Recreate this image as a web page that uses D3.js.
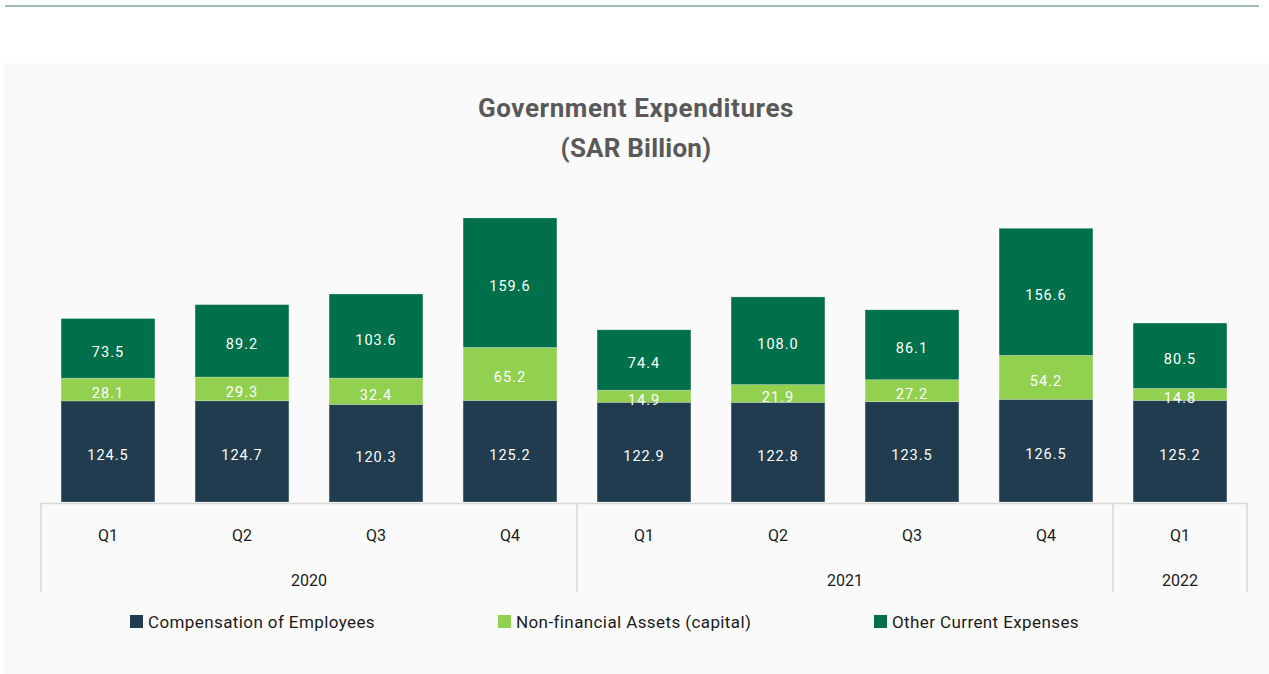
<!DOCTYPE html>
<html>
<head>
<meta charset="utf-8">
<script src="https://cdn.jsdelivr.net/npm/d3@7"></script>
<style>
  html, body { margin: 0; padding: 0; background: #ffffff; }
  svg { display: block; font-family: Roboto, "DejaVu Sans", sans-serif; }
</style>
</head>
<body>
<svg id="chart" width="1269" height="674"></svg>
<script>
// Quarterly government expenditures, SAR billion
const quarters = ["Q1", "Q2", "Q3", "Q4", "Q1", "Q2", "Q3", "Q4", "Q1"];
const years = ["2020", "2020", "2020", "2020", "2021", "2021", "2021", "2021", "2022"];
const compensation = [124.5, 124.7, 120.3, 125.2, 122.9, 122.8, 123.5, 126.5, 125.2];
const nonFinancial = [28.1, 29.3, 32.4, 65.2, 14.9, 21.9, 27.2, 54.2, 14.8];
const otherCurrent = [73.5, 89.2, 103.6, 159.6, 74.4, 108.0, 86.1, 156.6, 80.5];
const seriesNames = ["Compensation of Employees", "Non-financial Assets (capital)", "Other Current Expenses"];
const seriesColors = ["#213c4e", "#92d050", "#00704a"];

const svg = d3.select("#chart");
const W = 1269;

// top rule and card background
svg.append("line").attr("x1", 5).attr("x2", 1259).attr("y1", 6).attr("y2", 6)
  .attr("stroke", "#7fa896").attr("stroke-width", 1.5);
svg.append("rect").attr("x", 4).attr("y", 63).attr("width", W - 4).attr("height", 611)
  .attr("fill", "#fafafa");

// title
svg.append("text").attr("x", 636).attr("y", 117).attr("text-anchor", "middle")
  .attr("font-size", 26).attr("font-weight", "bold").attr("letter-spacing", 0.6).attr("fill", "#595959")
  .text("Government Expenditures");
svg.append("text").attr("x", 636).attr("y", 157).attr("text-anchor", "middle")
  .attr("font-size", 26).attr("font-weight", "bold").attr("letter-spacing", 0.2).attr("fill", "#595959")
  .text("(SAR Billion)");

const left = 41, right = 1247, baseY = 502;
const idx = d3.range(quarters.length);
const x = d3.scaleBand().domain(idx).range([left, right]).paddingInner(0.3).paddingOuter(0.15);
const y = d3.scaleLinear().domain([0, 400]).range([baseY, 177.4]);

const rows = idx.map(i => ({ i, comp: compensation[i], nfa: nonFinancial[i], other: otherCurrent[i] }));
const keys = ["comp", "nfa", "other"];
const stacked = d3.stack().keys(keys)(rows);

const g = svg.append("g");
stacked.forEach((layer, k) => {
  const lg = g.append("g");
  lg.selectAll("rect").data(layer).join("rect")
    .attr("x", d => x(d.data.i))
    .attr("width", x.bandwidth())
    .attr("y", d => y(d[1]))
    .attr("height", d => y(d[0]) - y(d[1]))
    .attr("fill", seriesColors[k])
    .attr("stroke", "rgba(255,255,255,0.35)").attr("stroke-width", 0.6);
  lg.selectAll("text").data(layer).join("text")
    .attr("x", d => x(d.data.i) + x.bandwidth() / 2)
    .attr("y", d => (y(d[0]) + y(d[1])) / 2 + 8.5)
    .attr("text-anchor", "middle")
    .attr("font-size", 14.5).attr("letter-spacing", 1)
    .attr("fill", "#ffffff")
    .text(d => d3.format(".1f")(d.data[keys[k]]));
});

// category axis: quarter row and year groups
const axisColor = "#d9d9d9";
const ax = svg.append("g");
ax.append("line").attr("x1", left).attr("x2", right).attr("y1", baseY + 1.5).attr("y2", baseY + 1.5)
  .attr("stroke", axisColor).attr("stroke-width", 1.5);
const step = x.step();
const groups = [];
years.forEach((yr, i) => {
  const last = groups[groups.length - 1];
  if (last && last.year === yr) last.end = i; else groups.push({ year: yr, start: i, end: i });
});
groups.forEach(gp => {
  gp.x0 = x(gp.start) - (step - x.bandwidth()) / 2;
  gp.x1 = x(gp.end) + x.bandwidth() + (step - x.bandwidth()) / 2;
});
const edges = [groups[0].x0].concat(groups.map(gp => gp.x1));
ax.selectAll("line.div").data(edges).join("line").attr("class", "div")
  .attr("x1", d => d).attr("x2", d => d).attr("y1", baseY + 1).attr("y2", 592)
  .attr("stroke", axisColor).attr("stroke-width", 1.5);
ax.selectAll("text.q").data(idx).join("text").attr("class", "q")
  .attr("x", i => x(i) + x.bandwidth() / 2).attr("y", 541)
  .attr("text-anchor", "middle").attr("font-size", 16).attr("fill", "#1a1a1a")
  .text(i => quarters[i]);
ax.selectAll("text.yr").data(groups).join("text").attr("class", "yr")
  .attr("x", gp => (gp.x0 + gp.x1) / 2).attr("y", 586)
  .attr("text-anchor", "middle").attr("font-size", 16).attr("fill", "#1a1a1a")
  .text(gp => gp.year);

// legend
const legendX = [130, 498, 874];
const lg = svg.append("g");
seriesNames.forEach((name, k) => {
  lg.append("rect").attr("x", legendX[k]).attr("y", 615).attr("width", 13).attr("height", 13)
    .attr("fill", seriesColors[k]);
  lg.append("text").attr("x", legendX[k] + 18).attr("y", 628)
    .attr("font-size", 17).attr("letter-spacing", 0.4).attr("fill", "#1a1a1a").text(name);
});
</script>
</body>
</html>
